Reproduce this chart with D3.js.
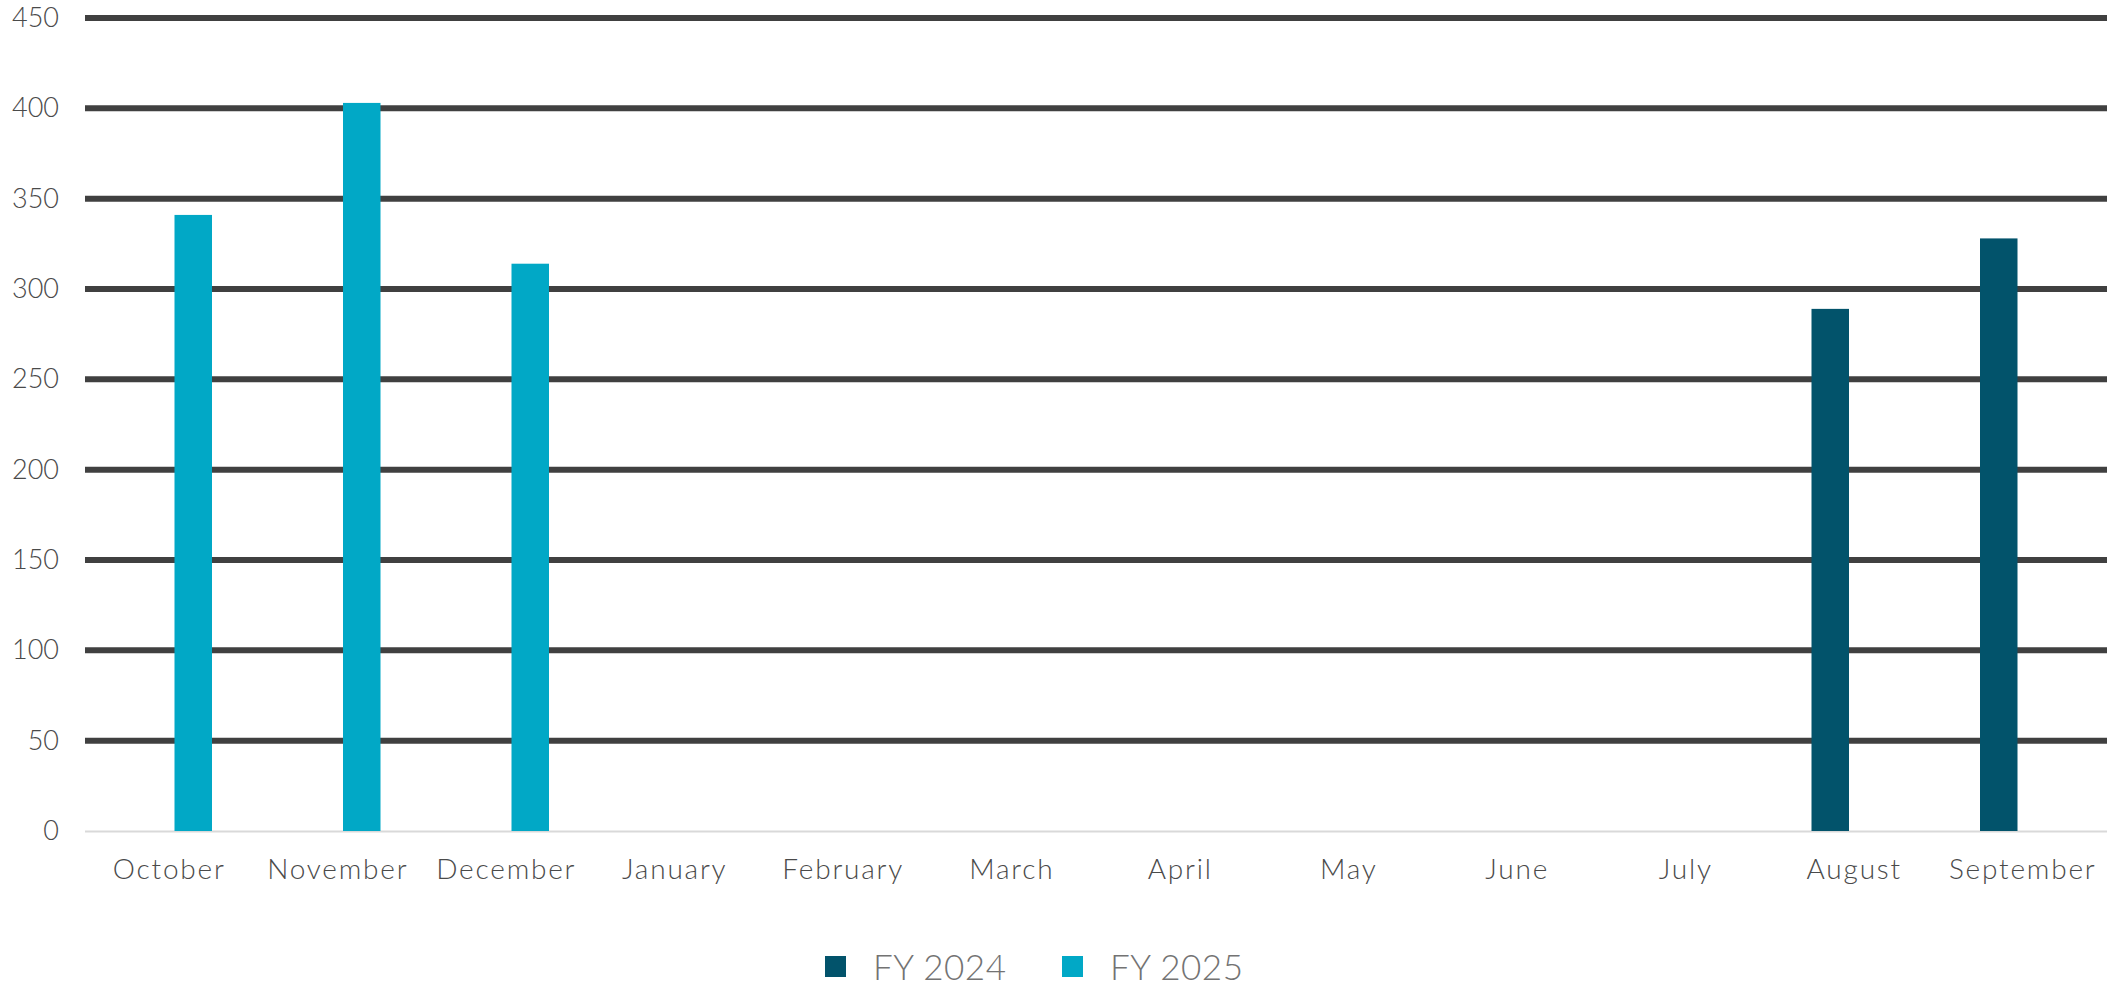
<!DOCTYPE html>
<html><head><meta charset="utf-8">
<script src="https://cdn.jsdelivr.net/npm/d3@7"></script>
<style>
html,body{margin:0;padding:0;background:#fff;}
svg{display:block;}
text{font-family:Lato,"Noto Sans",sans-serif;}
</style></head><body>
<svg id="c" width="2112" height="988"></svg>
<script>
const months = ["October","November","December","January","February","March","April","May","June","July","August","September"];
const seriesNames = ["FY 2024","FY 2025"];
const fy2024 = [null,null,null,null,null,null,null,null,null,null,289,328];
const fy2025 = [341,403,314,null,null,null,null,null,null,null,null,null];
const yTicks = [0,50,100,150,200,250,300,350,400,450];
const colors = ["#02536B","#01A8C6"];

(function(){
const svg = d3.select("#c");
const mL = 85, mR = 2107, mT = 18, mB = 831;
const x = d3.scaleBand().domain(months).range([mL,mR]).paddingInner(0).paddingOuter(0);
const y = d3.scaleLinear().domain([0,450]).range([mB, mT]);
const barW = 37.5, off = 24;

// gridlines
svg.append("g").selectAll("line").data(yTicks.filter(d=>d>0)).join("line")
  .attr("x1",mL).attr("x2",mR)
  .attr("y1",d=>y(d)).attr("y2",d=>y(d))
  .attr("stroke","#404040").attr("stroke-width",6);
// zero axis
svg.append("line").attr("x1",mL).attr("x2",mR).attr("y1",y(0)+0.5).attr("y2",y(0)+0.5)
  .attr("stroke","#d9d9d9").attr("stroke-width",2);

// y labels
const ya = d3.axisLeft(y).tickValues(yTicks).tickSize(0).tickPadding(0);
const gy = svg.append("g").attr("transform",`translate(${mL-26},0)`).call(ya);
gy.select(".domain").remove();
gy.selectAll("text").attr("font-size",27).attr("fill","#4a4a4a").attr("font-family","Lato").attr("font-weight",300);

// x labels
const xa = d3.axisBottom(x).tickSize(0).tickPadding(0);
const gx = svg.append("g").attr("transform",`translate(0,${mB})`).call(xa);
gx.select(".domain").remove();
gx.selectAll("text").attr("font-size",28).attr("fill","#4a4a4a").attr("letter-spacing","1.8px")
  .attr("font-family","Lato").attr("font-weight",300).attr("dy",null).attr("y",48);

// bars
const series = [fy2024, fy2025];
series.forEach((vals,si)=>{
  svg.append("g").selectAll("rect").data(months.map((m,i)=>({m,v:vals[i]})).filter(d=>d.v!=null))
    .join("rect")
    .attr("x",d=>x(d.m)+x.bandwidth()/2 + (si===0?-off:off) - barW/2)
    .attr("width",barW)
    .attr("y",d=>y(d.v))
    .attr("height",d=>y(0)-y(d.v))
    .attr("fill",colors[si]);
});

// legend
const leg = [{n:seriesNames[0],c:colors[0],x:825},{n:seriesNames[1],c:colors[1],x:1062}];
const lg = svg.append("g");
leg.forEach(l=>{
  lg.append("rect").attr("x",l.x).attr("y",956).attr("width",21).attr("height",21).attr("fill",l.c);
  lg.append("text").attr("x",l.x+48).attr("y",980).attr("font-size",35).attr("font-weight",300)
    .attr("letter-spacing","0.5px").attr("fill","#737373").text(l.n);
});
})();
</script></body></html>
